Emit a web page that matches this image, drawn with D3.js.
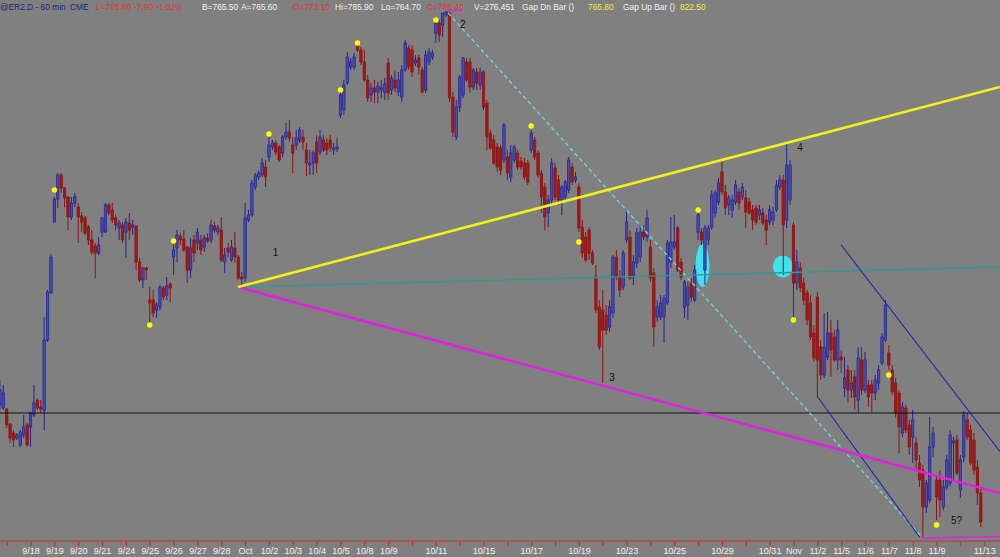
<!DOCTYPE html>
<html><head><meta charset="utf-8">
<script src="https://cdn.jsdelivr.net/npm/d3@7"></script>
<style>html,body{margin:0;padding:0;background:#808080;overflow:hidden}</style>
</head><body>
<svg id="c" width="1000" height="557"></svg>
<script>
// ---------- DATA ----------
// trading days (9/14 .. 11/13); "" = tick without label
const dayLabels = ["", "", "9/18", "9/19", "9/20", "9/21", "9/24", "9/25", "9/26", "9/27", "9/28",
  "Oct", "10/2", "10/3", "10/4", "10/5", "10/8", "10/9", "", "10/11", "", "10/15", "", "10/17", "",
  "10/19", "", "10/23", "", "10/25", "", "10/29", "", "10/31", "Nov", "11/2", "11/5", "11/6", "11/7",
  "11/8", "11/9", "", "11/13"];
const barsPerDay = 7;
const firstBar = 5; // index of first drawn 60-min bar (last two bars of 9/14)

const open = [789, 788.4,
  788.2, 785.2, 783.4, 782.4, 781, 783, 785,
  784.6, 787, 790, 788.6, 788, 802, 811.4,
  825.6, 830.2, 835, 832.4, 830.6, 826.6, 829.4,
  828.6, 826.8, 826.4, 824.6, 822, 820.8, 819.4,
  823.6, 823.6, 829, 828, 826.4, 824.4, 825,
  823.6, 825.4, 824.6, 824.8, 817.6, 814, 816.4,
  810, 810, 808, 808.6, 812.4, 811, 813.2,
  818.6, 820.4, 822.8, 822.2, 820.6, 816, 822,
  821.4, 822, 820.6, 822.4, 822, 824.8, 823.6,
  824, 817.6, 820.4, 818, 820.4, 818.6, 814.6,
  814.4, 826, 827, 832.6, 834.6, 835, 836.6,
  838.6, 840.6, 841.4, 840.6, 839.4, 842.6, 843.6,
  841, 841, 842, 842.6, 840, 837, 837.4,
  841.6, 839.6, 842, 841.4, 842, 840, 840.2,
  847, 848, 853.4, 856.6, 856.6, 860.8, 860,
  857.6, 854, 851, 852.4, 851.6, 852, 851.6,
  857.4, 852, 854, 851.6, 850.6, 856, 860.4,
  860, 857.4, 858.4, 856, 852, 857.6, 858.6,
  863.4, 865.4, 865, 867, 867.4, 850.6, 842.6,
  848.6, 851, 857.6, 857.6, 852.6, 855.6, 853,
  855.6, 849.4, 843.4, 842, 840.6, 840.4, 838,
  838.6, 834.6, 838, 839.4, 837.8, 837.4, 837.4,
  840, 842, 839.4, 835.4, 832.6, 827.4, 830,
  836.4, 834, 830, 830.6, 832, 836.6, 834,
  832.6, 824.6, 822.6, 824, 819.4, 814.6, 808.6,
  808, 807, 804.6, 807.4, 818.6, 814.6, 812.6,
  822, 822.6, 814.6, 817.4, 818.6, 823.6, 822.6,
  820.6, 815.4, 806.6, 806.6, 806.6, 809.4, 817.6,
  820.6, 824.4, 817.6, 808.6, 809, 813.4, 810,
  823.6, 823.6, 816, 822, 824.6, 827.4, 829.6,
  835.6, 831.6, 829, 828, 829.6, 831.6, 830.6,
  830.4, 829.6, 828, 828.4, 827, 827.4, 826,
  825.6, 826, 828, 832.6, 834, 826, 830,
  825, 813.4, 816.4, 813.4, 811.4, 809.4, 803.4,
  810.6, 800.6, 795, 798.6, 803.4, 802.6, 798,
  798.6, 792.4, 796, 792, 794.6, 790, 798,
  792, 793, 793, 791.4, 793.4, 797.4, 802,
  799.4, 796, 793.4, 791.4, 783.4, 788.4, 785,
  782.6, 781.4, 777.4, 776, 768.6, 770, 780.6,
  774, 774, 768.6, 772.6, 773.4, 781.4, 782,
  772, 778.6, 786, 784, 782, 776.6, 771.4];

const high = [794, 793,
  788.4, 785.4, 784, 783.4, 784, 787, 785.4,
  787.6, 793, 790.4, 790, 806.6, 812, 819.2,
  830.6, 835.4, 835.4, 832.6, 830.8, 830.6, 831.4,
  829.4, 827.6, 826.8, 825, 824, 821.4, 822.6,
  826.6, 829.4, 829.4, 829.4, 827, 826, 825.6,
  826.4, 827.4, 826, 825, 818.4, 816.6, 816.6,
  812.6, 812, 809.6, 813, 812.8, 814.6, 813.6,
  822, 824, 823.4, 824, 820.8, 822.4, 823,
  824.4, 823, 823, 823.4, 826, 825.6, 825,
  826.6, 820.4, 821.4, 822, 823.6, 819, 815.6,
  829.4, 828, 834, 835.4, 836, 838.4, 838,
  842.6, 842, 842, 841, 843, 845.4, 846,
  842.6, 844, 844.6, 844, 841.4, 840, 840,
  843, 844, 843, 842.4, 843, 841.4, 842.4,
  851.6, 854, 859.6, 858.4, 859.4, 861, 860.6,
  860, 855, 853.4, 854, 853.6, 854, 854.4,
  858.4, 855, 856, 855.6, 857, 862, 861,
  861, 859, 859, 856.6, 860, 860.4, 860,
  865.6, 866, 867.4, 867.8, 867.6, 851.6, 850,
  855, 858.6, 858.4, 858.4, 856.4, 856.4, 856.4,
  856, 850, 844, 843, 841.4, 841, 845.4,
  840, 841, 841, 840, 838.6, 838.4, 838,
  844, 842.6, 840, 836, 833.4, 831, 838.4,
  837.4, 835, 833, 834, 838.6, 837.4, 835.6,
  833.4, 826, 823.6, 824.6, 820, 817, 810,
  812, 809, 810, 819, 820, 816, 820,
  828, 824, 819, 824.4, 825, 825, 828,
  822, 816.4, 810, 811, 811, 822, 826.6,
  827, 824.8, 818.4, 814, 813.6, 814.4, 817,
  827.4, 824.4, 825, 825, 832, 832, 834.4,
  838, 833, 831, 831, 834, 832.4, 833.4,
  832, 830.4, 829, 829, 829, 828.4, 827,
  829, 828.6, 834, 835, 835, 841.4, 838,
  825.6, 820, 817.6, 814.4, 812, 811, 805,
  811.6, 802, 807.4, 807.6, 806, 804, 806,
  800, 798.6, 797, 796, 796, 800.6, 800.6,
  799.6, 794, 794, 795, 797, 803.4, 810,
  801, 797, 794.4, 792, 789.6, 789, 786,
  788, 782.6, 779, 777, 774, 786.6, 784.6,
  775, 776, 774, 779, 784, 782.6, 783,
  779, 787.8, 787.4, 785, 783.4, 778, 772.4];

const low = [788, 788,
  784.4, 781.4, 780.6, 782, 780.6, 782.4, 780.6,
  780.6, 786.6, 788, 787.4, 784, 801.6, 811.2,
  825.4, 828.4, 831.4, 828.6, 824, 826, 828.6,
  821.4, 823.6, 823, 821, 819, 814.4, 819,
  822.6, 823.4, 827, 825.4, 824, 822, 821.4,
  818.4, 822, 823, 816, 813.6, 812.4, 814,
  805.6, 806.6, 806.4, 808, 810, 810, 809.6,
  815, 817.6, 821, 819.6, 813.4, 814.4, 817.6,
  820, 819, 819.6, 821.4, 821.4, 823.4, 823,
  817.6, 815.4, 818.6, 817.6, 817.4, 814, 812.6,
  813.6, 825.6, 826.6, 832, 834, 834.6, 832.6,
  837.6, 840, 839, 837.6, 838.6, 842, 841.6,
  835.4, 840, 841.4, 840, 834.8, 835, 835,
  835.4, 839, 839.6, 839, 839.6, 839, 839.6,
  846.4, 847, 853, 856, 856, 859.6, 857,
  853.6, 849.6, 849.6, 849.4, 849.4, 850.4, 850,
  850, 851, 851.6, 850.8, 849.6, 855.6, 856,
  854.6, 856.8, 855, 851.4, 851.4, 857, 858,
  861.4, 861.6, 862.6, 866.6, 849.6, 842.6, 842,
  847.6, 850.4, 853.6, 851.4, 852, 852, 852,
  848, 840, 840, 837, 835.6, 835, 837.4,
  834, 833.6, 837.4, 836, 836, 834, 833,
  839.4, 838, 834.4, 827.4, 824, 824.6, 829,
  830, 829, 827, 830, 831.4, 833, 833.4,
  823.6, 818.4, 817.6, 818, 817, 807.4, 800,
  793.4, 803, 803.6, 806.4, 814, 810.6, 812,
  821.4, 814, 813, 816.4, 817.6, 822, 821.6,
  813.6, 800.6, 805.6, 806, 801.4, 809, 816.4,
  820, 815.6, 814, 806.4, 806, 809.6, 809.6,
  822, 821, 813, 821, 824, 826.4, 829,
  831, 827, 827, 826.4, 829, 828, 830,
  824.4, 827, 824, 825, 826, 825, 821,
  825, 825, 827.6, 832, 815, 824.4, 829,
  806.6, 812, 811.6, 809, 805, 802, 797.6,
  790.6, 794, 794.4, 798, 794.6, 797.6, 796,
  795.4, 790.6, 789.4, 790.4, 788, 787.4, 791,
  791.4, 788.6, 787.6, 790, 792, 797, 801.6,
  796, 791, 786.4, 779.4, 782.6, 783.4, 779,
  777.4, 776, 772.6, 762.6, 767.4, 769.4, 778.6,
  766, 766.6, 768, 772, 772.8, 774, 775,
  770.4, 777.6, 782, 777, 775, 769, 764.6];

const close = [792, 791.4,
  785, 782.4, 782, 783, 783.6, 784.6, 781,
  787.4, 789.4, 788.4, 788.2, 802, 811.6, 818.6,
  830.2, 835, 832.4, 830.4, 826.6, 829.4, 830.6,
  826.6, 825.6, 823.4, 822, 819.6, 819.4, 821,
  826.4, 829, 827.4, 826, 825, 825.4, 822,
  825.6, 824, 825, 817.6, 814, 816.4, 816,
  809.4, 807.4, 809, 812.6, 810.6, 812.8, 812.4,
  820, 823, 822, 820, 816, 820.4, 819.4,
  823.6, 820, 822.4, 821.8, 825, 824, 824.4,
  818, 819, 819.6, 820.6, 818.6, 814.4, 814.2,
  826.4, 827, 833.4, 835, 835.4, 837.4, 834.6,
  841, 841.4, 839.6, 838, 842.6, 843.6, 842.4,
  839.4, 842.4, 844, 841.6, 837.4, 837.4, 839.4,
  837.4, 842.6, 840, 840, 840.4, 840.4, 840.6,
  851, 853, 858.6, 857.6, 858.6, 860, 857.6,
  854, 850.4, 852.4, 851.6, 852.8, 852.4, 853.2,
  851.4, 854.4, 852.4, 854, 856, 861.4, 856.6,
  855.6, 858, 856.6, 851.6, 859, 859.6, 859.4,
  865.4, 863, 867.4, 867.6, 850.4, 843.6, 848.6,
  854.6, 858.4, 854, 852.6, 856, 853.4, 855.6,
  848.6, 842.6, 840.4, 837.4, 836.6, 836, 845,
  835.4, 839.4, 840.6, 836.6, 836.6, 834.6, 833.6,
  843.4, 838.6, 835, 830.6, 826.6, 830, 837.4,
  830.6, 830, 832.6, 833.6, 838, 833.6, 834.6,
  824.4, 819.4, 818, 819.4, 817.4, 808, 800.6,
  804, 804, 808.6, 818.6, 814.6, 812, 819.4,
  825.6, 814.4, 817.6, 823.4, 823.6, 822.6, 826.4,
  814.4, 804.6, 808.6, 809.4, 810.4, 821.4, 821.6,
  821.6, 816, 814.6, 813.6, 812.6, 810.6, 816,
  827, 822, 824.4, 824.4, 831, 831.4, 833.4,
  831.6, 828.4, 830.4, 830, 833, 829.4, 832.6,
  827.6, 827.4, 826, 825.6, 828, 825.4, 824,
  828, 827.6, 833, 834, 825, 837, 837,
  813.4, 817.6, 812.4, 810, 806, 802.6, 798.4,
  798, 795, 800.6, 803.4, 800, 798, 804,
  798, 794.4, 792, 793.4, 790.6, 798.4, 792,
  798, 790.6, 791.4, 794, 796, 802.6, 809,
  797, 791.6, 787.4, 784.6, 788.6, 784, 780.6,
  786, 778, 774, 768.6, 773.4, 780.6, 783.4,
  770.6, 770, 772.6, 778, 783, 781.8, 775.4,
  778, 787, 782.6, 777.4, 776, 771.4, 765.6];

// gap-bar markers (bar index, price)
const gapIdx   = [21, 49, 56, 84, 105, 110, 133, 161, 175, 210, 238, 266, 280];
const gapPrice = [832, 805, 821.8, 843.2, 852, 861.4, 866, 844.8, 821.6, 828, 806, 795, 765];

// drawn studies: [barIndex, price] pairs
const yellowLine  = [[74.9, 812.6], [298.6, 852.6]];
const magentaLine = [[74.9, 812.6], [298.6, 771.4]];
const tealLine    = [[74.9, 812.6], [298.6, 816.6]];
const dashedLine  = [[136.6, 867.4], [275.7, 762.6]];
const channelTop  = [[251.9, 821.1], [298.6, 779.7]];
const channelBot  = [[245.0, 790.7], [275.1, 762.5]];
const magentaLow  = [[275.7, 762.4], [298.6, 762.7]];
const magentaHigh = [[136.3, 867.9], [140.7, 867.9]];
const hLinePrice = 787.4;

const waveText  = ["1", "2", "3", "4", "5?"];
const waveIdx   = [85.9, 140.9, 184.7, 239.9, 285.9];
const wavePrice = [818.8, 864.4, 793.8, 839.8, 765.2];

const marks = [[211.3, 816.9, 7.5, 22], [234.9, 816.7, 10.5, 11.5]]; // idx, price, rx, ry

const headerTexts = ["@ER2.D - 60 min", "CME", "L=765.60", "-7.90", "-1.02%", "B=765.50", "A=765.60",
  "O=773.10", "Hi=785.90", "Lo=764.70", "C=785.40", "V=276,451", "Gap Dn Bar ()", "765.80",
  "Gap Up Bar ()", "822.50"];

// ---------- DRAW ----------
const W = 1000, H = 557;
const svg = d3.select("#c");
svg.append("rect").attr("width", W).attr("height", H).attr("fill", "#808080");

const x = d3.scaleLinear().domain([7, 294]).range([6.7, 984.2]);
const y = d3.scaleLinear().domain([870, 758.6]).range([0, H]);
const line = d3.line().x(d => x(d[0])).y(d => y(d[1]));

// highlight ellipses (under bars)
svg.selectAll("ellipse.m").data(marks).join("ellipse")
  .attr("cx", d => x(d[0])).attr("cy", d => y(d[1]))
  .attr("rx", d => d[2]).attr("ry", d => d[3])
  .attr("fill", "#3fe3f0").attr("stroke", "#8a6a7a").attr("stroke-width", 0.8);

// candles
const bars = open.map((o, i) => ({i: firstBar + i, o, h: high[i], l: low[i], c: close[i]}));
const upStroke = "#22228c", upFill = "#4a4aae", dnStroke = "#8c1212", dnFill = "#a01818";
const cg = svg.append("g");
cg.selectAll("line.w").data(bars).join("line")
  .attr("x1", d => x(d.i)).attr("x2", d => x(d.i))
  .attr("y1", d => y(d.h)).attr("y2", d => y(d.l))
  .attr("stroke", d => d.c >= d.o ? upStroke : dnStroke).attr("stroke-width", 1);
cg.selectAll("rect.b").data(bars).join("rect")
  .attr("x", d => x(d.i) - 1.2).attr("width", 2.4)
  .attr("y", d => y(Math.max(d.o, d.c)))
  .attr("height", d => Math.max(0.8, Math.abs(y(d.o) - y(d.c))))
  .attr("fill", d => d.c >= d.o ? upFill : dnFill)
  .attr("stroke", d => d.c >= d.o ? upStroke : dnStroke).attr("stroke-width", 0.7);

// horizontal level
svg.append("line").attr("x1", 0).attr("x2", W).attr("y1", y(hLinePrice)).attr("y2", y(hLinePrice))
  .attr("stroke", "#101010").attr("stroke-width", 1.2);

// studies
svg.append("path").attr("d", line(tealLine)).attr("stroke", "#2e9a9a").attr("stroke-width", 1.3).attr("fill", "none");
svg.append("path").attr("d", line(dashedLine)).attr("stroke", "#6fd6d6").attr("stroke-width", 1.4)
  .attr("stroke-dasharray", "4,3").attr("fill", "none");
svg.append("path").attr("d", line(channelTop)).attr("stroke", "#2323a8").attr("stroke-width", 1.1).attr("fill", "none");
svg.append("path").attr("d", line(channelBot)).attr("stroke", "#2323a8").attr("stroke-width", 1.1).attr("fill", "none");
svg.append("path").attr("d", line(magentaLine)).attr("stroke", "#e020e0").attr("stroke-width", 2.6).attr("fill", "none");
svg.append("path").attr("d", line(magentaLow)).attr("stroke", "#e020e0").attr("stroke-width", 1.5).attr("fill", "none");
svg.append("path").attr("d", line(magentaHigh)).attr("stroke", "#e020e0").attr("stroke-width", 1.2).attr("fill", "none");
svg.append("path").attr("d", line(yellowLine)).attr("stroke", "#f4f01c").attr("stroke-width", 2.6).attr("fill", "none");

// gap dots
svg.selectAll("circle.g").data(gapIdx).join("circle")
  .attr("cx", d => x(d)).attr("cy", (d, i) => y(gapPrice[i])).attr("r", 2.7).attr("fill", "#ffff00");

// wave labels
svg.selectAll("text.wv").data(waveText).join("text")
  .attr("x", (d, i) => x(waveIdx[i])).attr("y", (d, i) => y(wavePrice[i]))
  .attr("text-anchor", "middle").attr("font-family", "Arial, 'Liberation Sans', sans-serif")
  .attr("font-size", 10).attr("fill", "#111").text(d => d);

// x axis
svg.append("line").attr("x1", 0).attr("x2", W).attr("y1", 541).attr("y2", 541)
  .attr("stroke", "#c03030").attr("stroke-width", 1.2);
const dayIdx = d3.range(1, dayLabels.length).map(d => d * barsPerDay);
const axis = d3.axisBottom(x).tickValues(dayIdx).tickFormat(d => dayLabels[d / barsPerDay])
  .tickSize(5).tickPadding(2);
const ag = svg.append("g").attr("transform", "translate(0,541)").call(axis);
ag.select(".domain").remove();
ag.selectAll(".tick line").attr("stroke", "#c03030").attr("stroke-width", 1.2);
ag.selectAll(".tick text").attr("fill", "#f2f2f2").attr("font-size", 9)
  .attr("font-family", "Arial, 'Liberation Sans', sans-serif");

// header
const hx = [0, 70, 96, 134, 156, 202, 241, 293, 335, 381, 427, 474, 522, 588, 623, 680];
const navy = "#1e1e80", red = "#e23434", wht = "#f2f2f2", yel = "#f4f03a";
const hc = [navy, navy, red, red, red, wht, wht, red, wht, wht, red, wht, wht, yel, wht, yel];
svg.selectAll("text.hd").data(headerTexts).join("text")
  .attr("x", (d, i) => hx[i]).attr("y", 10)
  .attr("font-family", "Arial, 'Liberation Sans', sans-serif").attr("font-size", 8.4)
  .attr("fill", (d, i) => hc[i]).text(d => d);
</script>
</body></html>
